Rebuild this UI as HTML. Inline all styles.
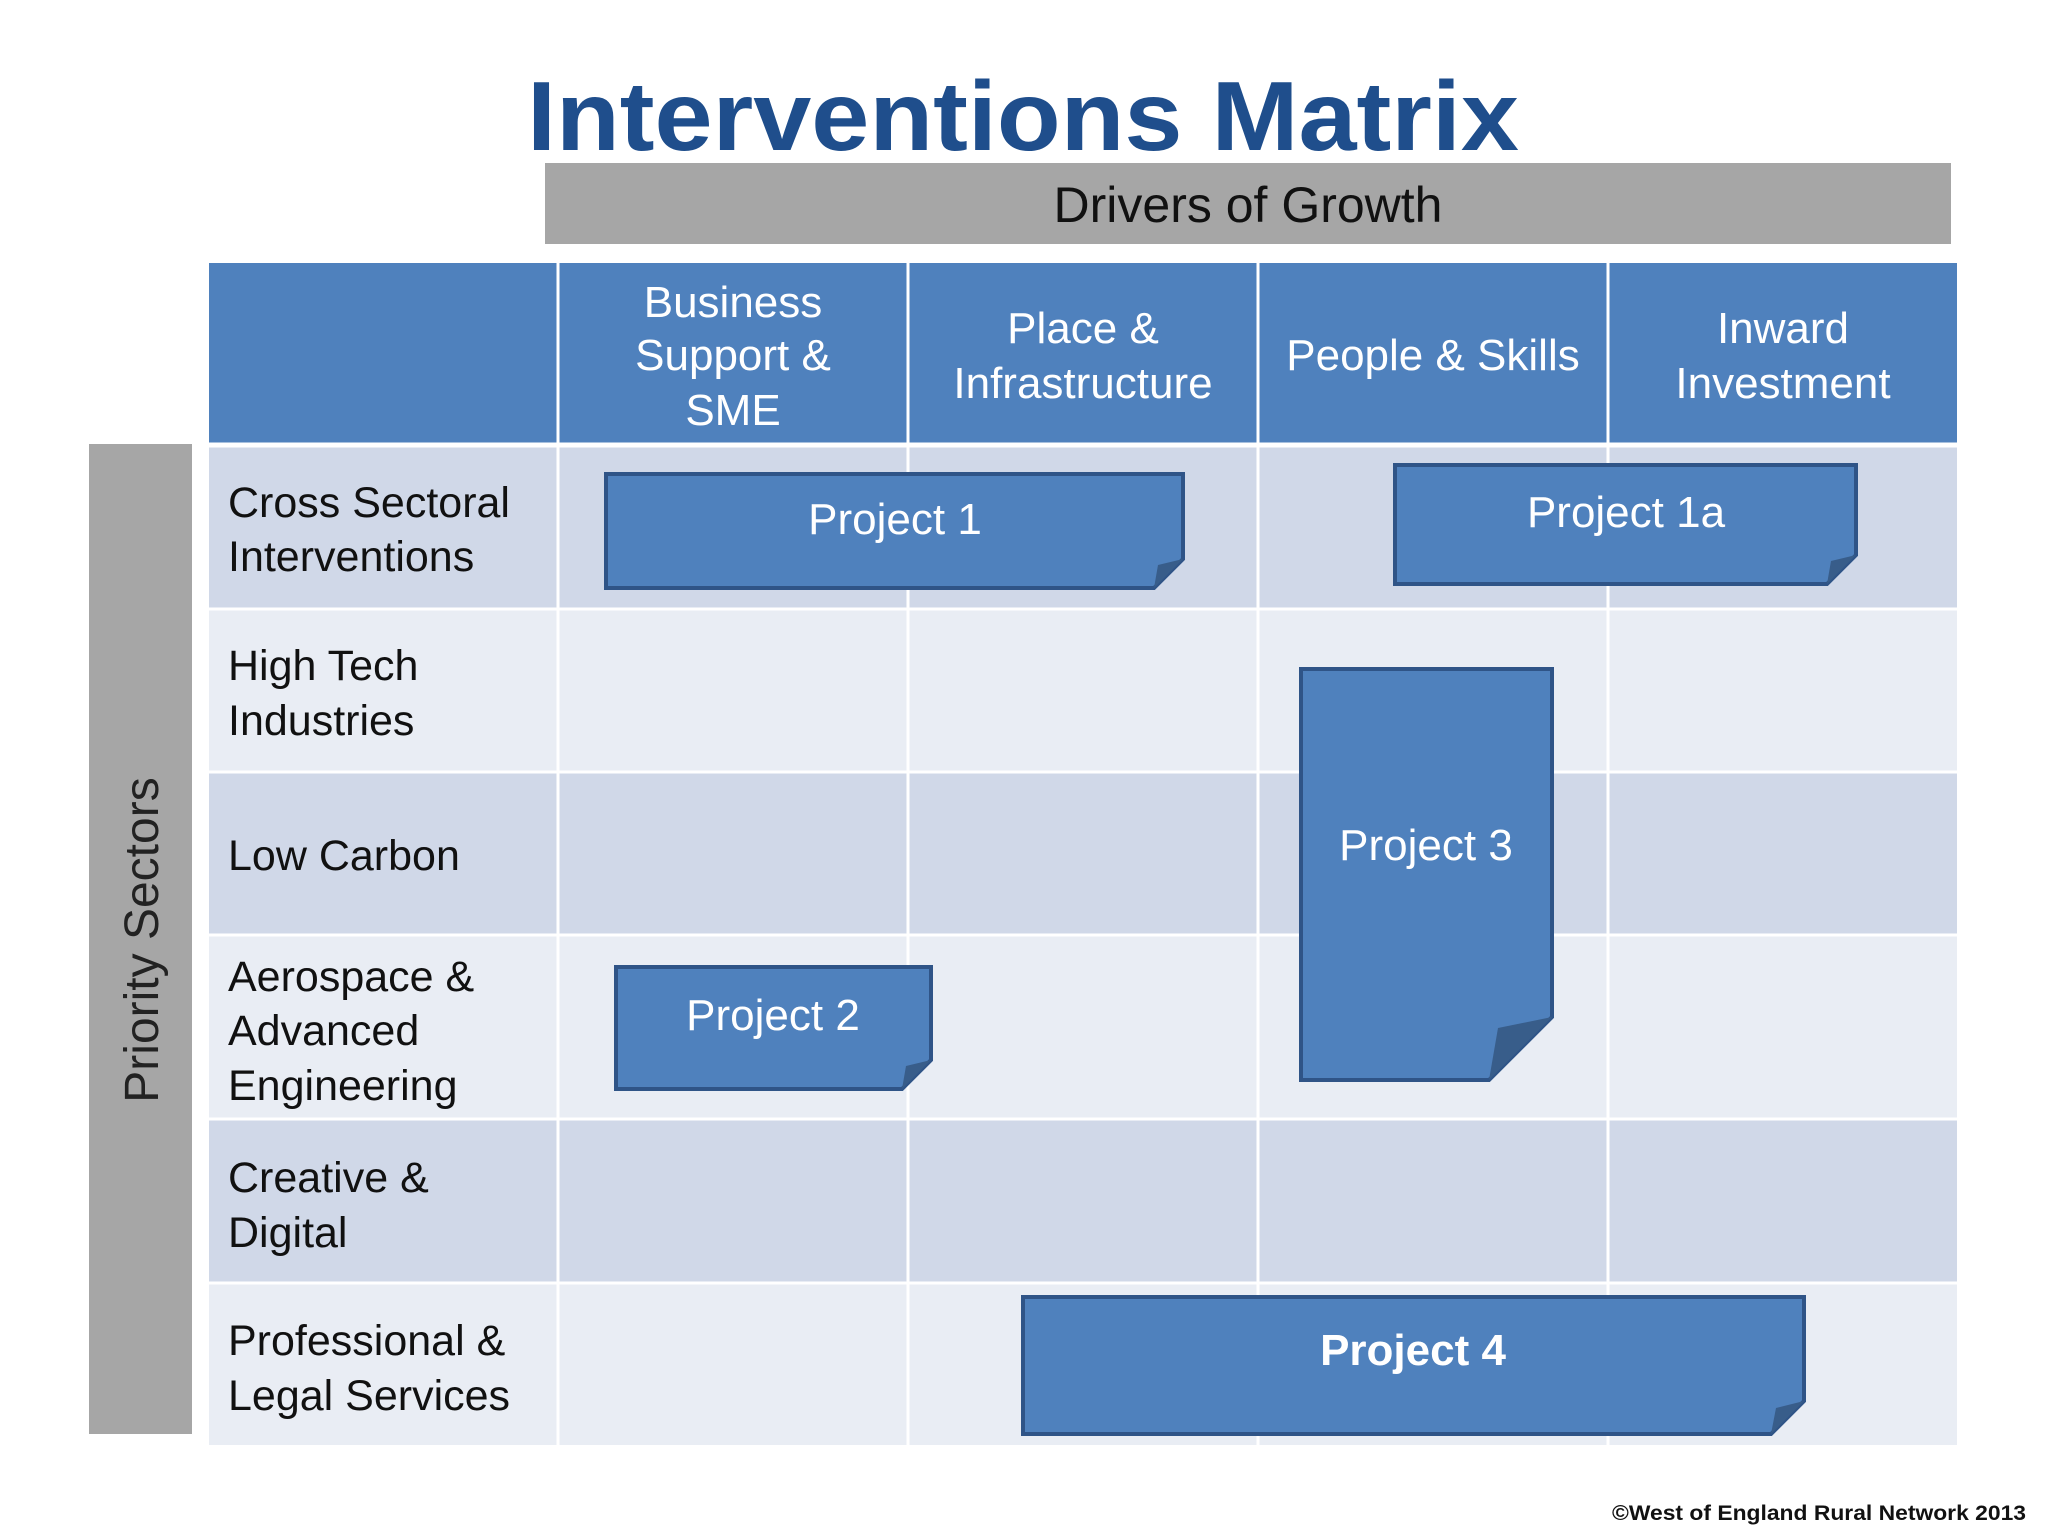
<!DOCTYPE html>
<html><head><meta charset="utf-8"><style>
html,body{margin:0;padding:0;background:#fff;}
svg{display:block;}
text{font-family:"Liberation Sans",sans-serif;}
</style></head><body>
<svg width="2048" height="1536" viewBox="0 0 2048 1536" xmlns="http://www.w3.org/2000/svg">
<rect width="2048" height="1536" fill="#fff"/>
<text x="1023" y="150" text-anchor="middle" font-size="98" font-weight="bold" fill="#1f4e8c" textLength="992" lengthAdjust="spacingAndGlyphs">Interventions Matrix</text>
<rect x="545" y="163" width="1406" height="81" fill="#a6a6a6"/>
<text x="1248" y="222" text-anchor="middle" font-size="50" fill="#111">Drivers of Growth</text>
<rect x="209" y="263" width="1748" height="180" fill="#4f81bd"/>
<rect x="209" y="447" width="1748" height="162" fill="#d0d8e8"/>
<rect x="209" y="609" width="1748" height="163" fill="#e9edf4"/>
<rect x="209" y="772" width="1748" height="163" fill="#d0d8e8"/>
<rect x="209" y="935" width="1748" height="184" fill="#e9edf4"/>
<rect x="209" y="1119" width="1748" height="164" fill="#d0d8e8"/>
<rect x="209" y="1283" width="1748" height="162" fill="#e9edf4"/>
<g stroke="#fff" stroke-width="3">
<line x1="558" y1="263" x2="558" y2="1445"/><line x1="908" y1="263" x2="908" y2="1445"/>
<line x1="1258" y1="263" x2="1258" y2="1445"/><line x1="1608" y1="263" x2="1608" y2="1445"/>
<line x1="209" y1="445" x2="1957" y2="445" stroke-width="5"/>
<line x1="209" y1="609" x2="1957" y2="609"/><line x1="209" y1="772" x2="1957" y2="772"/>
<line x1="209" y1="935" x2="1957" y2="935"/><line x1="209" y1="1119" x2="1957" y2="1119"/>
<line x1="209" y1="1283" x2="1957" y2="1283"/>
</g>
<g font-size="44" fill="#fff" text-anchor="middle">
<text x="733" y="317">Business</text><text x="733" y="370">Support &amp;</text><text x="733" y="425">SME</text>
<text x="1083" y="343">Place &amp;</text><text x="1083" y="398">Infrastructure</text>
<text x="1433" y="370">People &amp; Skills</text>
<text x="1783" y="343">Inward</text><text x="1783" y="398">Investment</text>
</g>
<rect x="89" y="444" width="103" height="990" fill="#a6a6a6"/>
<text transform="translate(158,940) rotate(-90)" text-anchor="middle" font-size="48" fill="#222">Priority Sectors</text>
<g font-size="43" fill="#111">
<text x="228" y="517">Cross Sectoral</text><text x="228" y="571">Interventions</text>
<text x="228" y="680">High Tech</text><text x="228" y="735">Industries</text>
<text x="228" y="870">Low Carbon</text>
<text x="228" y="991">Aerospace &amp;</text><text x="228" y="1045">Advanced</text><text x="228" y="1100">Engineering</text>
<text x="228" y="1192">Creative &amp;</text><text x="228" y="1247">Digital</text>
<text x="228" y="1355">Professional &amp;</text><text x="228" y="1410">Legal Services</text>
</g>
<g fill="#4f81bd" stroke="#2f5487" stroke-width="4">
<path d="M606,474 H1183 V559 L1154,588 H606 Z"/>
<path d="M1395,465 H1856 V555 L1827,584 H1395 Z"/>
<path d="M1301,669 H1552 V1017 L1489,1080 H1301 Z"/>
<path d="M616,967 H931 V1060 L902,1089 H616 Z"/>
<path d="M1023,1297 H1804 V1401 L1771,1434 H1023 Z"/>
</g>
<g fill="#385d8a">
<path d="M1183,559 L1154,588 L1158,565 Z"/>
<path d="M1856,555 L1827,584 L1831,561 Z"/>
<path d="M1552,1017 L1489,1080 L1498,1028 Z"/>
<path d="M931,1060 L902,1089 L906,1066 Z"/>
<path d="M1804,1401 L1771,1434 L1776,1408 Z"/>
</g>
<g font-size="44" fill="#fff" text-anchor="middle">
<text x="895" y="534">Project 1</text>
<text x="1626" y="527">Project 1a</text>
<text x="1426" y="860">Project 3</text>
<text x="773" y="1030">Project 2</text>
<text x="1413" y="1365" font-weight="bold">Project 4</text>
</g>
<text x="2026" y="1520" text-anchor="end" font-size="21" font-weight="bold" fill="#111" textLength="414" lengthAdjust="spacingAndGlyphs">©West of England Rural Network 2013</text>
</svg>
</body></html>
